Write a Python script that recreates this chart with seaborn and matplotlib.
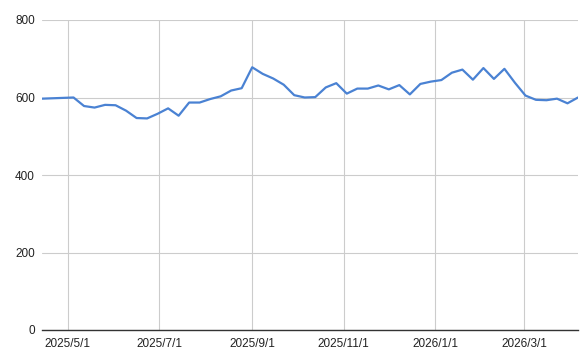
import numpy as np
import pandas as pd
import matplotlib
matplotlib.use("Agg")
import matplotlib.pyplot as plt
import matplotlib.dates as mdates
import seaborn as sns

start_date = "2025-04-14"
n_weeks = 52
values = [597, 598, 599, 600, 578, 574, 581, 580, 566, 547,
          546, 558, 572, 553, 587, 587, 596, 603, 618, 624,
          678, 661, 649, 633, 606, 600, 601, 626, 637, 610,
          623, 623, 631, 621, 632, 608, 635, 641, 645, 664,
          672, 646, 676, 648, 674, 638, 605, 594, 593, 597,
          585, 600]
tick_dates = ["2025-05-01", "2025-07-01", "2025-09-01", "2025-11-01", "2026-01-01", "2026-03-01"]
tick_labels = ["2025/5/1", "2025/7/1", "2025/9/1", "2025/11/1", "2026/1/1", "2026/3/1"]
y_ticks = [0, 200, 400, 600, 800]

dates = pd.date_range(start_date, periods=n_weeks, freq="7D")
df = pd.DataFrame({"date": dates, "value": values})

sns.set_style("white")
plt.rcParams["font.family"] = ["Liberation Sans", "DejaVu Sans"]

fig = plt.figure(figsize=(5.88, 3.55), dpi=100)
ax = fig.add_axes([42 / 588, 25 / 355, 536 / 588, 310 / 355])

sns.lineplot(data=df, x="date", y="value", ax=ax, color="#4a82d3", linewidth=1.6)

ax.set_xlim(dates[0], dates[-1])
ax.set_ylim(0, 800)
ax.set_yticks(y_ticks)
ax.set_yticklabels([str(v) for v in y_ticks])
ax.set_xticks(pd.to_datetime(tick_dates))
ax.set_xticklabels(tick_labels)
ax.set_xlabel("")
ax.set_ylabel("")

ax.grid(True, color="#cccccc", linewidth=0.8)
ax.set_axisbelow(True)
for s in ["top", "right", "left"]:
    ax.spines[s].set_visible(False)
ax.spines["bottom"].set_color("#333333")
ax.spines["bottom"].set_linewidth(1.0)
ax.spines["bottom"].set_zorder(3)

ax.tick_params(axis="both", length=0, labelsize=8.5, colors="#222222")
ax.tick_params(axis="x", pad=6)
ax.tick_params(axis="y", pad=5)

fig.savefig("out.png", dpi=100)
